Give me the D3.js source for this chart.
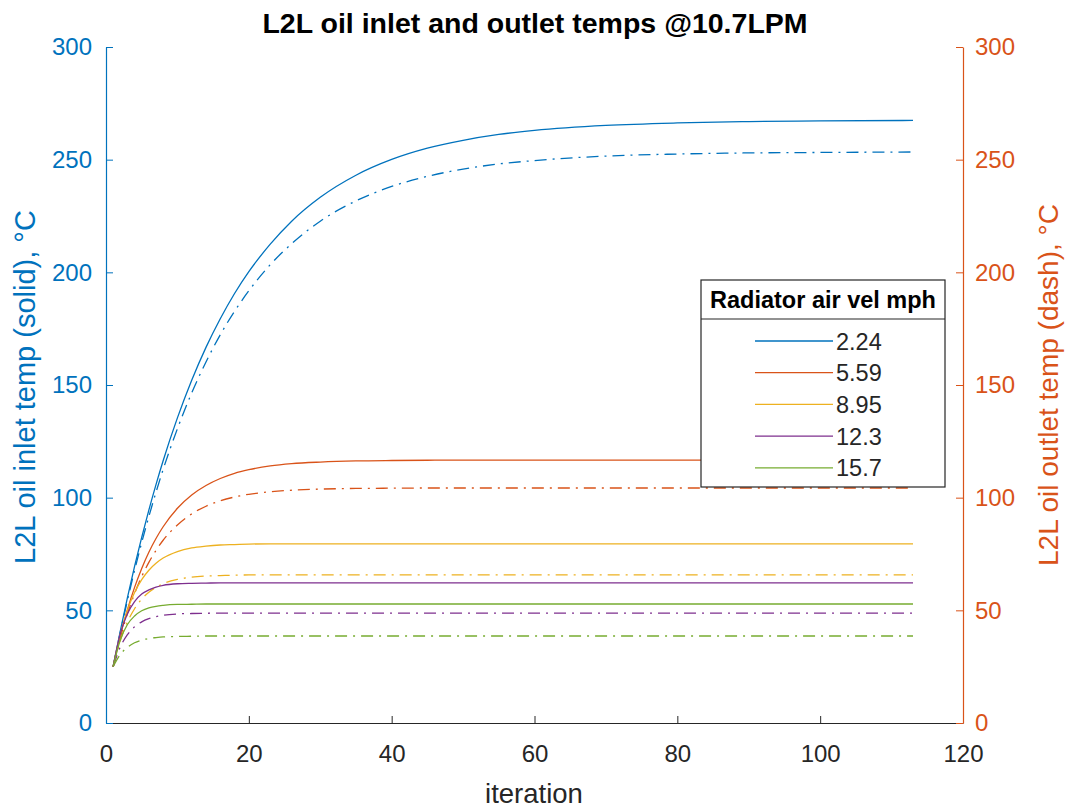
<!DOCTYPE html>
<html>
<head>
<meta charset="utf-8">
<script src="https://cdn.jsdelivr.net/npm/d3@7"></script>
<style>
  body { margin: 0; background: #fff; }
  svg text { font-family: "Liberation Sans", Arial, sans-serif; }
</style>
</head>
<body>
<div id="chart"></div>
<script>
// iteration samples
const iterations = [1, 2, 3, 4, 5, 6, 7, 8, 10, 12, 14, 16, 18, 20, 23, 26, 30, 35, 40, 45, 50, 55, 60, 70, 80, 90, 100, 113];

// inlet temps (solid, left axis)
const inlet224 = [25, 40.8, 55.6, 69.5, 82.4, 94.5, 105.8, 116.4, 135.4, 152.1, 166.7, 179.4, 190.6, 200.3, 212.5, 222.7, 233.3, 243.1, 250.1, 255.1, 258.6, 261.2, 263.0, 265.2, 266.3, 266.9, 267.2, 267.4];
const inlet559 = [25, 38.7, 50.3, 60.2, 68.6, 75.8, 81.9, 87.1, 95.3, 101.2, 105.4, 108.5, 110.8, 112.4, 114.1, 115.1, 115.8, 116.3, 116.5, 116.6, 116.7, 116.7, 116.7, 116.7, 116.7, 116.7, 116.7, 116.7];
const inlet895 = [25, 39.4, 50.1, 57.9, 63.6, 67.8, 70.9, 73.2, 76.1, 77.7, 78.5, 79.0, 79.2, 79.4, 79.5, 79.5, 79.5, 79.5, 79.5, 79.5, 79.5, 79.5, 79.5, 79.5, 79.5, 79.5, 79.5, 79.5];
const inlet123 = [25, 39.6, 48.5, 53.9, 57.2, 59.1, 60.3, 61.1, 61.8, 62.0, 62.1, 62.2, 62.2, 62.2, 62.2, 62.2, 62.2, 62.2, 62.2, 62.2, 62.2, 62.2, 62.2, 62.2, 62.2, 62.2, 62.2, 62.2];
const inlet157 = [25, 36.8, 43.7, 47.5, 49.8, 51.1, 51.8, 52.2, 52.6, 52.7, 52.8, 52.8, 52.8, 52.8, 52.8, 52.8, 52.8, 52.8, 52.8, 52.8, 52.8, 52.8, 52.8, 52.8, 52.8, 52.8, 52.8, 52.8];

// outlet temps (dash-dot, right axis)
const outlet224 = [25, 40.2, 54.4, 67.7, 80.1, 91.6, 102.4, 112.5, 130.6, 146.5, 160.2, 172.3, 182.7, 191.8, 203.4, 212.7, 222.7, 231.7, 238.1, 242.6, 245.8, 248.1, 249.6, 251.6, 252.5, 253.0, 253.2, 253.4];
const outlet559 = [25, 37.8, 48.5, 57.4, 65.0, 71.3, 76.6, 81.1, 87.9, 92.8, 96.2, 98.6, 100.3, 101.5, 102.6, 103.3, 103.8, 104.1, 104.2, 104.3, 104.3, 104.3, 104.3, 104.3, 104.3, 104.3, 104.3, 104.3];
const outlet895 = [25, 36.5, 44.8, 50.7, 55.0, 58.0, 60.2, 61.8, 63.7, 64.7, 65.2, 65.4, 65.6, 65.7, 65.7, 65.7, 65.7, 65.7, 65.7, 65.7, 65.7, 65.7, 65.7, 65.7, 65.7, 65.7, 65.7, 65.7];
const outlet123 = [25, 33.7, 39.2, 42.7, 44.9, 46.3, 47.2, 47.8, 48.4, 48.6, 48.7, 48.8, 48.8, 48.8, 48.8, 48.8, 48.8, 48.8, 48.8, 48.8, 48.8, 48.8, 48.8, 48.8, 48.8, 48.8, 48.8, 48.8];
const outlet157 = [25, 30.4, 33.6, 35.6, 36.8, 37.5, 37.9, 38.2, 38.4, 38.5, 38.6, 38.6, 38.6, 38.6, 38.6, 38.6, 38.6, 38.6, 38.6, 38.6, 38.6, 38.6, 38.6, 38.6, 38.6, 38.6, 38.6, 38.6];

const airVel = ["2.24", "5.59", "8.95", "12.3", "15.7"];
const xTicks = [0, 20, 40, 60, 80, 100, 120];
const yTicks = [0, 50, 100, 150, 200, 250, 300];

const inletSeries = [inlet224, inlet559, inlet895, inlet123, inlet157];
const outletSeries = [outlet224, outlet559, outlet895, outlet123, outlet157];
const colors = ["#0072BD", "#D95319", "#EDB120", "#7E2F8E", "#77AC30"];
const leftColor = "#0072BD", rightColor = "#D95319", axisColor = "#262626";

const W = 1066, H = 810;
const margin = { left: 106, right: W - 963, top: 47, bottom: H - 723 };

const svg = d3.select("#chart").append("svg").attr("width", W).attr("height", H);

const x = d3.scaleLinear().domain([0, 120]).range([margin.left, W - margin.right]);
const yLeft = d3.scaleLinear().domain([0, 300]).range([H - margin.bottom, margin.top]);
const yRight = d3.scaleLinear().domain([0, 300]).range([H - margin.bottom, margin.top]);

// lines
const lineL = d3.line().x((d) => x(d[0])).y((d) => yLeft(d[1])).curve(d3.curveMonotoneX);
const lineR = d3.line().x((d) => x(d[0])).y((d) => yRight(d[1])).curve(d3.curveMonotoneX);

const plot = svg.append("g");
outletSeries.forEach((s, i) => {
    plot.append("path")
        .datum(iterations.map((it, j) => [it, s[j]]))
        .attr("d", lineR)
        .attr("fill", "none")
        .attr("stroke", colors[i])
        .attr("stroke-width", 1.3)
        .attr("stroke-dasharray", "12,6,2,6");
});
inletSeries.forEach((s, i) => {
    plot.append("path")
        .datum(iterations.map((it, j) => [it, s[j]]))
        .attr("d", lineL)
        .attr("fill", "none")
        .attr("stroke", colors[i])
        .attr("stroke-width", 1.3);
});

// axes (MATLAB style: ticks inward)
const tickFont = 24;
const gx = svg.append("g").attr("transform", `translate(0,${H - margin.bottom})`)
    .call(d3.axisBottom(x).tickValues(xTicks).tickSize(-7).tickPadding(22).tickSizeOuter(0));
gx.select(".domain").attr("stroke", axisColor).attr("stroke-width", 1.2);
gx.selectAll(".tick line").attr("stroke", axisColor);
gx.selectAll("text").attr("fill", axisColor).style("font-size", tickFont + "px");

const gl = svg.append("g").attr("transform", `translate(${margin.left},0)`)
    .call(d3.axisLeft(yLeft).tickValues(yTicks).tickSize(-7).tickPadding(14).tickSizeOuter(0));
gl.select(".domain").attr("stroke", leftColor).attr("stroke-width", 1.2);
gl.selectAll(".tick line").attr("stroke", leftColor);
gl.selectAll("text").attr("fill", leftColor).style("font-size", tickFont + "px");

const gr = svg.append("g").attr("transform", `translate(${W - margin.right},0)`)
    .call(d3.axisRight(yRight).tickValues(yTicks).tickSize(-7).tickPadding(12).tickSizeOuter(0));
gr.select(".domain").attr("stroke", rightColor).attr("stroke-width", 1.2);
gr.selectAll(".tick line").attr("stroke", rightColor);
gr.selectAll("text").attr("fill", rightColor).style("font-size", tickFont + "px");

// title + labels
svg.append("text").attr("x", 535).attr("y", 33).attr("text-anchor", "middle")
    .style("font-size", "28.5px").style("font-weight", "bold").attr("fill", "#000")
    .text("L2L oil inlet and outlet temps @10.7LPM");

svg.append("text").attr("x", 534).attr("y", 803).attr("text-anchor", "middle")
    .style("font-size", "27.5px").attr("fill", axisColor).text("iteration");

svg.append("text").attr("transform", `translate(35,387) rotate(-90)`).attr("text-anchor", "middle")
    .style("font-size", "29px").attr("fill", leftColor).text("L2L oil inlet temp (solid), °C");

svg.append("text").attr("transform", `translate(1058,385) rotate(-90)`).attr("text-anchor", "middle")
    .style("font-size", "28px").attr("fill", rightColor).text("L2L oil outlet temp (dash), °C");

// legend
const lg = svg.append("g").attr("transform", "translate(701,280)");
lg.append("rect").attr("width", 244).attr("height", 207)
    .attr("fill", "#fff").attr("stroke", axisColor).attr("stroke-width", 1.2);
lg.append("line").attr("x1", 0).attr("x2", 244).attr("y1", 39).attr("y2", 39)
    .attr("stroke", axisColor).attr("stroke-width", 1.2);
lg.append("text").attr("x", 122).attr("y", 28).attr("text-anchor", "middle")
    .style("font-size", "23.5px").style("font-weight", "bold").attr("fill", "#000")
    .text("Radiator air vel mph");
airVel.forEach((v, i) => {
    const yy = 61 + i * 31.7;
    lg.append("line").attr("x1", 54).attr("x2", 132).attr("y1", yy).attr("y2", yy)
        .attr("stroke", colors[i]).attr("stroke-width", 1.3);
    lg.append("text").attr("x", 135).attr("y", yy + 8.5).style("font-size", "23.5px")
        .attr("fill", axisColor).text(v);
});
</script>
</body>
</html>
